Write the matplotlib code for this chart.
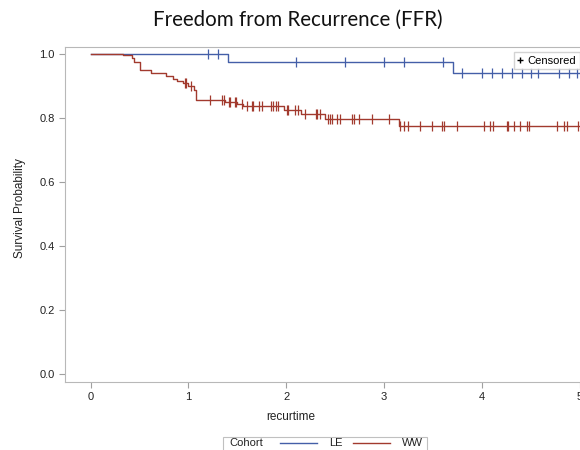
import matplotlib
matplotlib.use('Agg')
import matplotlib.pyplot as plt
from matplotlib.lines import Line2D
from matplotlib.patches import Rectangle

# Kaplan-Meier steps: (time, survival after the step)
le_times = [0.0, 1.40, 3.71]
le_surv = [1.0, 0.974, 0.939]
le_censor = [1.20, 1.30, 2.10, 2.60, 3.00, 3.20, 3.60, 3.80, 4.00, 4.10,
             4.21, 4.31, 4.41, 4.50, 4.58, 4.79, 4.89, 4.97]

ww_times = [0.0, 0.33, 0.42, 0.44, 0.50, 0.62, 0.77, 0.84, 0.88, 0.94,
            1.00, 1.06, 1.08, 1.37, 1.50, 1.56, 1.98, 2.15, 2.40, 3.15]
ww_surv = [1.0, 0.995, 0.988, 0.975, 0.950, 0.940, 0.930, 0.922, 0.915, 0.908,
           0.900, 0.887, 0.857, 0.851, 0.844, 0.838, 0.826, 0.812, 0.797, 0.776]
ww_censor = [0.96, 0.98, 1.03, 1.22, 1.34, 1.36, 1.41, 1.43, 1.48, 1.49,
             1.55, 1.60, 1.65, 1.66, 1.72, 1.75, 1.84, 1.86, 1.90, 1.92,
             2.01, 2.02, 2.09, 2.12, 2.19, 2.30, 2.31, 2.35, 2.43, 2.45,
             2.47, 2.52, 2.55, 2.67, 2.69, 2.74, 2.88, 3.05, 3.16, 3.20,
             3.25, 3.37, 3.49, 3.59, 3.61, 3.75, 4.02, 4.08, 4.11, 4.26,
             4.27, 4.33, 4.39, 4.46, 4.48, 4.77, 4.84, 4.87, 4.98]

cohorts = ['LE', 'WW']
colors = {'LE': '#445fa8', 'WW': '#a23a2e'}
x_end = 5.3
x_ticks = [0, 1, 2, 3, 4, 5]
y_ticks = [0.0, 0.2, 0.4, 0.6, 0.8, 1.0]


def surv_at(times, surv, t):
    # survival value in effect at time t
    s = surv[0]
    for tt, ss in zip(times, surv):
        if tt <= t:
            s = ss
    return s


plt.rcParams['font.family'] = ['Liberation Sans', 'DejaVu Sans']
fig = plt.figure(figsize=(5.8, 4.5), dpi=100)
ax = fig.add_axes([0.112, 0.151, 0.931, 0.745])

series = {'LE': (le_times, le_surv, le_censor), 'WW': (ww_times, ww_surv, ww_censor)}
for name in cohorts:
    times, surv, cens = series[name]
    ax.step(times + [x_end], surv + [surv[-1]], where='post',
            color=colors[name], lw=1.0)
    ax.plot(cens, [surv_at(times, surv, c) for c in cens], linestyle='none',
            marker='|', markersize=7, markeredgewidth=0.9, color=colors[name])

ax.set_xlim(-0.263, 5.26)
ax.set_ylim(-0.025, 1.022)
ax.set_xticks(x_ticks)
ax.set_yticks(y_ticks)
ax.set_yticklabels([f'{v:.1f}' for v in y_ticks])
for sp in ax.spines.values():
    sp.set_color('#b8b8b8')
ax.tick_params(colors='#a0a0a0', labelcolor='#222222', labelsize=8, length=4)
ax.set_xlabel('recurtime', fontsize=8.5, color='#222222')
ax.set_ylabel('Survival Probability', fontsize=8.5, color='#222222')
ax.xaxis.set_label_coords(0.418, -0.085)
ax.yaxis.set_label_coords(-0.072, 0.52)

fig.text(0.514, 0.955, 'Freedom from Recurrence (FFR)', ha='center', va='center',
         fontsize=14.8, family=['Lato', 'DejaVu Sans'], color='#111111')

# censored legend (box runs off the right edge like the source)
fig.legend(handles=[Line2D([], [], marker='+', color='black', linestyle='none',
                           markersize=5)],
           labels=['Censored'], loc='upper left', bbox_to_anchor=(0.887, 0.884),
           fontsize=8, frameon=True, edgecolor='#c8c8c8', fancybox=False,
           handlelength=0.4, handletextpad=0.5, borderpad=0.3, borderaxespad=0)

# bottom cohort legend
fig.patches.append(Rectangle((0.384, -0.02), 0.352, 0.05, transform=fig.transFigure,
                             facecolor='white', edgecolor='#c0c0c0', lw=0.8))
fig.text(0.395, 0.015, 'Cohort', fontsize=8, va='center', color='#222222')
x0 = 0.482
for name in cohorts:
    fig.lines.append(Line2D([x0, x0 + 0.065], [0.015, 0.015], transform=fig.transFigure,
                            color=colors[name], lw=1.0))
    fig.text(x0 + 0.085, 0.015, name, fontsize=8, va='center', color='#222222')
    x0 += 0.126

fig.savefig('out.png', dpi=100)
